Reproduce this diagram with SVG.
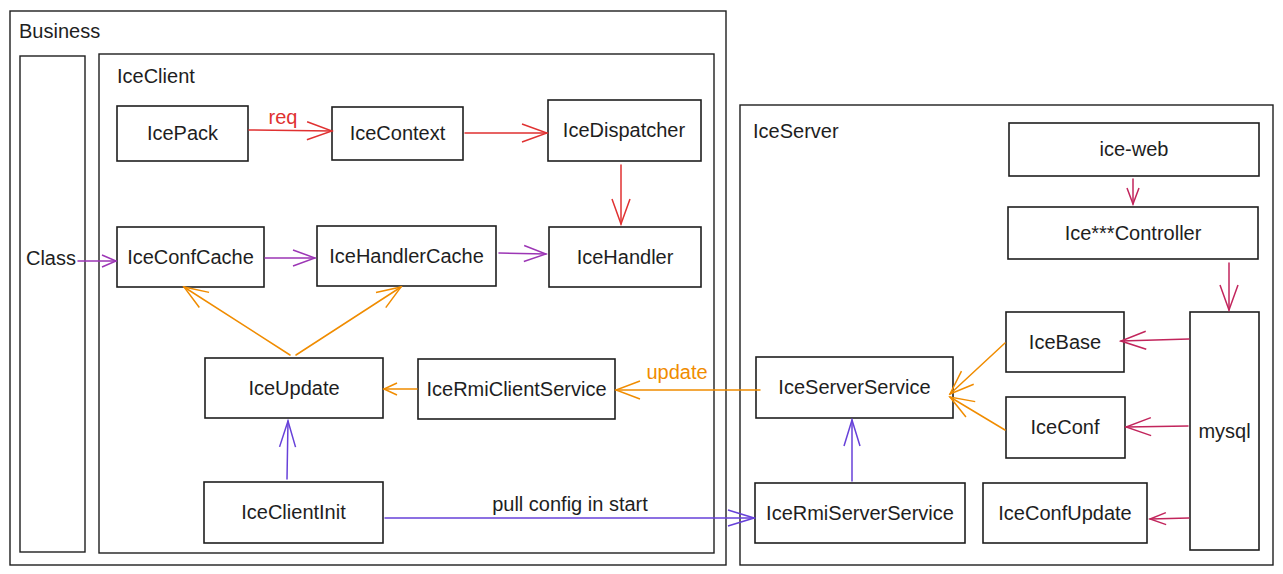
<svg xmlns="http://www.w3.org/2000/svg" width="1283" height="574" viewBox="0 0 1283 574">
<style>
  .box { fill: #ffffff; stroke: #1e1e1e; stroke-width: 1.6; }
  .frame { fill: none; stroke: #1e1e1e; stroke-width: 1.4; }
  text { font-family: "Liberation Sans", Arial, sans-serif; font-size: 20px; fill: #1e1e1e; }
  .c { text-anchor: middle; }
  .e { fill: none; stroke-width: 1.5; stroke-linecap: round; }
  .red { stroke: #e03131; }
  .pur { stroke: #9c36b5; }
  .ora { stroke: #f08c00; }
  .vio { stroke: #6741d9; }
  .pink { stroke: #c2255c; }
</style>
<defs>
  <marker id="redL" markerUnits="userSpaceOnUse" markerWidth="30" markerHeight="24" viewBox="-28 -12 30 24" refX="0" refY="0" orient="auto"><path d="M-25,-9 L0,0 L-25,9" fill="none" stroke="#e03131" stroke-width="1.5"/></marker>
  <marker id="purL" markerUnits="userSpaceOnUse" markerWidth="30" markerHeight="24" viewBox="-28 -12 30 24" refX="0" refY="0" orient="auto"><path d="M-22,-8 L0,0 L-22,8" fill="none" stroke="#9c36b5" stroke-width="1.5"/></marker>
  <marker id="purS" markerUnits="userSpaceOnUse" markerWidth="30" markerHeight="24" viewBox="-28 -12 30 24" refX="0" refY="0" orient="auto"><path d="M-14,-6 L0,0 L-14,6" fill="none" stroke="#9c36b5" stroke-width="1.5"/></marker>
  <marker id="oraL" markerUnits="userSpaceOnUse" markerWidth="30" markerHeight="24" viewBox="-28 -12 30 24" refX="0" refY="0" orient="auto"><path d="M-24,-9 L0,0 L-24,9" fill="none" stroke="#f08c00" stroke-width="1.5"/></marker>
  <marker id="oraS" markerUnits="userSpaceOnUse" markerWidth="30" markerHeight="24" viewBox="-28 -12 30 24" refX="0" refY="0" orient="auto"><path d="M-13,-6 L0,0 L-13,6" fill="none" stroke="#f08c00" stroke-width="1.5"/></marker>
  <marker id="vioL" markerUnits="userSpaceOnUse" markerWidth="30" markerHeight="24" viewBox="-28 -12 30 24" refX="0" refY="0" orient="auto"><path d="M-26,-8 L0,0 L-26,8" fill="none" stroke="#6741d9" stroke-width="1.5"/></marker>
  <marker id="pinkL" markerUnits="userSpaceOnUse" markerWidth="30" markerHeight="24" viewBox="-28 -12 30 24" refX="0" refY="0" orient="auto"><path d="M-25,-9 L0,0 L-25,9" fill="none" stroke="#c2255c" stroke-width="1.5"/></marker>
  <marker id="pinkS" markerUnits="userSpaceOnUse" markerWidth="30" markerHeight="24" viewBox="-28 -12 30 24" refX="0" refY="0" orient="auto"><path d="M-16,-6 L0,0 L-16,6" fill="none" stroke="#c2255c" stroke-width="1.5"/></marker>
</defs>
<rect width="1283" height="574" fill="#ffffff"/>

<g id="business">
  <rect class="frame" x="10" y="11" width="716" height="554"/>
  <text x="19" y="38">Business</text>
</g>
<g id="class">
  <rect class="frame" x="20" y="56" width="65" height="496"/>
  <text class="c" x="51" y="265">Class</text>
</g>
<g id="iceclient">
  <rect class="frame" x="99" y="54" width="615" height="499"/>
  <text x="117" y="83">IceClient</text>
</g>
<g id="iceserver">
  <rect class="frame" x="740" y="105" width="533" height="460"/>
  <text x="753" y="138">IceServer</text>
</g>

<g id="IcePack"><rect class="box" x="117" y="106" width="131" height="55"/><text class="c" x="182.5" y="140">IcePack</text></g>
<g id="IceContext"><rect class="box" x="332" y="107" width="131" height="53"/><text class="c" x="397.5" y="140">IceContext</text></g>
<g id="IceDispatcher"><rect class="box" x="548" y="100" width="153" height="61"/><text class="c" x="624" y="137">IceDispatcher</text></g>
<g id="IceConfCache"><rect class="box" x="117" y="227" width="147" height="60"/><text class="c" x="190.5" y="264">IceConfCache</text></g>
<g id="IceHandlerCache"><rect class="box" x="317" y="226" width="179" height="60"/><text class="c" x="406.5" y="263">IceHandlerCache</text></g>
<g id="IceHandler"><rect class="box" x="549" y="227" width="152" height="60"/><text class="c" x="625" y="264">IceHandler</text></g>
<g id="IceUpdate"><rect class="box" x="205" y="358" width="178" height="60"/><text class="c" x="294" y="395">IceUpdate</text></g>
<g id="IceRmiClientService"><rect class="box" x="418" y="359" width="197" height="60"/><text class="c" x="516.5" y="396">IceRmiClientService</text></g>
<g id="IceClientInit"><rect class="box" x="204" y="482" width="179" height="61"/><text class="c" x="293.5" y="519">IceClientInit</text></g>

<g id="ice-web"><rect class="box" x="1009" y="123" width="250" height="53"/><text class="c" x="1134" y="156">ice-web</text></g>
<g id="IceController"><rect class="box" x="1008" y="207" width="250" height="52"/><text class="c" x="1133" y="240">Ice***Controller</text></g>
<g id="IceBase"><rect class="box" x="1006" y="312" width="118" height="60"/><text class="c" x="1065" y="349">IceBase</text></g>
<g id="IceConf"><rect class="box" x="1006" y="397" width="119" height="61"/><text class="c" x="1065" y="434">IceConf</text></g>
<g id="mysql"><rect class="box" x="1190" y="312" width="69" height="238"/><text class="c" x="1224.5" y="438">mysql</text></g>
<g id="IceServerService"><rect class="box" x="756" y="357" width="197" height="61"/><text class="c" x="854.5" y="394">IceServerService</text></g>
<g id="IceRmiServerService"><rect class="box" x="755" y="483" width="210" height="60"/><text class="c" x="860" y="520">IceRmiServerService</text></g>
<g id="IceConfUpdate"><rect class="box" x="983" y="483" width="164" height="60"/><text class="c" x="1065" y="520">IceConfUpdate</text></g>

<g id="connectors">
  <line class="e red" x1="249" y1="130" x2="332" y2="131" marker-end="url(#redL)"/>
  <line class="e red" x1="465" y1="133" x2="547" y2="133" marker-end="url(#redL)"/>
  <line class="e red" x1="621" y1="165" x2="621" y2="224" marker-end="url(#redL)"/>
  <line class="e pur" x1="78" y1="261" x2="116" y2="261" marker-end="url(#purS)"/>
  <line class="e pur" x1="265" y1="258" x2="315" y2="258" marker-end="url(#purL)"/>
  <line class="e pur" x1="499" y1="253" x2="546" y2="254" marker-end="url(#purL)"/>
  <line class="e ora" x1="290" y1="355" x2="184" y2="287" marker-end="url(#oraL)"/>
  <line class="e ora" x1="296" y1="355" x2="401" y2="287" marker-end="url(#oraL)"/>
  <line class="e ora" x1="417" y1="389" x2="384" y2="389" marker-end="url(#oraS)"/>
  <line class="e ora" x1="760" y1="390" x2="616" y2="390" marker-end="url(#oraL)"/>
  <line class="e vio" x1="287" y1="479" x2="288" y2="421" marker-end="url(#vioL)"/>
  <line class="e vio" x1="385" y1="518" x2="754" y2="518" marker-end="url(#vioL)"/>
  <line class="e vio" x1="852" y1="481" x2="852" y2="420" marker-end="url(#vioL)"/>
  <line class="e ora" x1="1005" y1="343" x2="950" y2="394" marker-end="url(#oraL)"/>
  <line class="e ora" x1="1005" y1="430" x2="950" y2="397" marker-end="url(#oraL)"/>
  <line class="e pink" x1="1133" y1="179" x2="1133" y2="204" marker-end="url(#pinkS)"/>
  <line class="e pink" x1="1229" y1="263" x2="1229" y2="310" marker-end="url(#pinkL)"/>
  <line class="e pink" x1="1189" y1="339" x2="1121" y2="341" marker-end="url(#pinkL)"/>
  <line class="e pink" x1="1188" y1="426" x2="1126" y2="427" marker-end="url(#pinkL)"/>
  <line class="e pink" x1="1189" y1="518" x2="1150" y2="519" marker-end="url(#pinkS)"/>
  <text class="c" x="283" y="124" style="fill:#e03131">req</text>
  <text class="c" x="677" y="379" style="fill:#f08c00">update</text>
  <text class="c" x="570" y="511">pull config in start</text>
</g>
</svg>
